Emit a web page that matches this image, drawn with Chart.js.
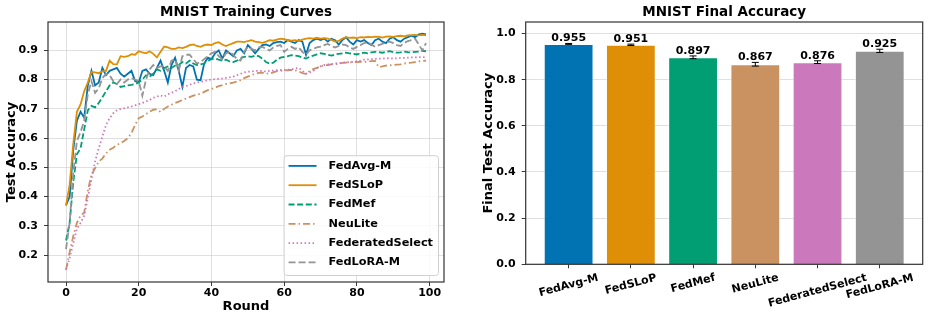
<!DOCTYPE html>
<html>
<head>
<meta charset="utf-8">
<script src="https://cdn.jsdelivr.net/npm/chart.js@4.4.1/dist/chart.umd.min.js"></script>
<style>
  body { margin: 0; background: #fff; }
  #wrap { position: relative; width: 929px; height: 319px; }
  canvas { position: absolute; top: 0; }
  #curves { left: 0; }
  #final { left: 465px; }
</style>
</head>
<body>
<div id="wrap">
  <canvas id="curves" width="465" height="319"></canvas>
  <canvas id="final" width="464" height="319"></canvas>
</div>
<script>
const methods = ['FedAvg-M', 'FedSLoP', 'FedMef', 'NeuLite', 'FederatedSelect', 'FedLoRA-M'];
const colors = ['#0173b2', '#de8f05', '#029e73', '#ca9161', '#cc78bc', '#949494'];
const dashes = [[], [], [6, 2.6], [7, 3, 1.5, 3], [1.5, 2.5], [7, 3]];

// test accuracy per round (0..99)
const fedAvgM = [
  0.37, 0.40, 0.56, 0.66, 0.69, 0.67, 0.78, 0.83, 0.78, 0.79,
  0.84, 0.815, 0.83, 0.835, 0.84, 0.82, 0.81, 0.82, 0.83, 0.795,
  0.79, 0.83, 0.835, 0.82, 0.815, 0.84, 0.865, 0.83, 0.79, 0.85,
  0.875, 0.83, 0.775, 0.84, 0.85, 0.845, 0.80, 0.798, 0.855, 0.875,
  0.87, 0.89, 0.90, 0.872, 0.90, 0.89, 0.88, 0.90, 0.905, 0.89,
  0.918, 0.905, 0.89, 0.905, 0.918, 0.92, 0.915, 0.925, 0.928, 0.93,
  0.925, 0.935, 0.93, 0.925, 0.935, 0.93, 0.885, 0.925, 0.935, 0.94,
  0.935, 0.94, 0.93, 0.94, 0.935, 0.92, 0.935, 0.945, 0.93, 0.92,
  0.935, 0.93, 0.935, 0.925, 0.918, 0.935, 0.94, 0.93, 0.925, 0.94,
  0.945, 0.935, 0.93, 0.94, 0.945, 0.95, 0.945, 0.955, 0.957, 0.955
];
const fedSLoP = [
  0.37, 0.44, 0.58, 0.69, 0.715, 0.76, 0.79, 0.826, 0.825, 0.822,
  0.828, 0.83, 0.865, 0.853, 0.852, 0.88, 0.878, 0.88, 0.887, 0.885,
  0.897, 0.893, 0.89, 0.897, 0.888, 0.876, 0.895, 0.913, 0.91, 0.905,
  0.905, 0.91, 0.908, 0.912, 0.918, 0.92, 0.915, 0.912, 0.918, 0.92,
  0.918, 0.925, 0.928, 0.92, 0.915, 0.92, 0.925, 0.93, 0.93, 0.928,
  0.932, 0.935, 0.93, 0.928, 0.926, 0.93, 0.935, 0.933, 0.937, 0.94,
  0.938, 0.935, 0.933, 0.935, 0.932, 0.937, 0.94, 0.942, 0.94, 0.943,
  0.94, 0.942, 0.94, 0.936, 0.93, 0.932, 0.94, 0.945, 0.943, 0.944,
  0.942, 0.945, 0.944, 0.946, 0.945, 0.947, 0.946, 0.944, 0.947, 0.948,
  0.946, 0.949, 0.95, 0.948, 0.951, 0.952, 0.953, 0.951, 0.953, 0.951
];
const fedMef = [
  0.25, 0.31, 0.45, 0.545, 0.565, 0.63, 0.695, 0.71, 0.705, 0.72,
  0.74, 0.76, 0.78, 0.79, 0.785, 0.775, 0.778, 0.78, 0.782, 0.785,
  0.79, 0.80, 0.815, 0.81, 0.82, 0.835, 0.83, 0.84, 0.845, 0.84,
  0.848, 0.85, 0.86, 0.855, 0.865, 0.855, 0.85, 0.852, 0.855, 0.865,
  0.87, 0.872, 0.868, 0.865, 0.868, 0.862, 0.86, 0.865, 0.872, 0.878,
  0.88, 0.878, 0.882, 0.88, 0.872, 0.86, 0.855, 0.858, 0.868, 0.875,
  0.878, 0.88, 0.884, 0.882, 0.88, 0.876, 0.872, 0.878, 0.882, 0.886,
  0.89, 0.888, 0.885, 0.882, 0.886, 0.888, 0.89, 0.892, 0.89, 0.888,
  0.886, 0.89, 0.892, 0.89, 0.893, 0.895, 0.894, 0.892, 0.895, 0.897,
  0.894, 0.892, 0.893, 0.896, 0.894, 0.893, 0.895, 0.896, 0.898, 0.897
];
const neuLite = [
  0.15, 0.21, 0.265, 0.31, 0.335, 0.345, 0.42, 0.475, 0.497, 0.52,
  0.53, 0.548, 0.56, 0.567, 0.577, 0.582, 0.59, 0.60, 0.617, 0.645,
  0.668, 0.674, 0.682, 0.69, 0.697, 0.698, 0.69, 0.70, 0.708, 0.714,
  0.72, 0.725, 0.73, 0.735, 0.74, 0.745, 0.748, 0.752, 0.758, 0.764,
  0.768, 0.772, 0.778, 0.781, 0.785, 0.787, 0.79, 0.793, 0.798, 0.805,
  0.81, 0.815, 0.82, 0.823, 0.824, 0.822, 0.82, 0.825, 0.829, 0.83,
  0.831, 0.832, 0.833, 0.832, 0.828, 0.822, 0.82, 0.83, 0.836, 0.84,
  0.845, 0.849, 0.85, 0.852, 0.853, 0.855, 0.857, 0.858, 0.859, 0.86,
  0.86, 0.861, 0.86, 0.862, 0.863, 0.864, 0.843, 0.845, 0.848, 0.849,
  0.85, 0.851, 0.852, 0.855, 0.857, 0.858, 0.86, 0.862, 0.864, 0.865
];
const federatedSelect = [
  0.15, 0.19, 0.24, 0.29, 0.31, 0.335, 0.395, 0.46, 0.52, 0.565,
  0.605, 0.645, 0.668, 0.685, 0.695, 0.70, 0.702, 0.705, 0.708, 0.712,
  0.716, 0.72, 0.725, 0.73, 0.738, 0.742, 0.746, 0.742, 0.75, 0.755,
  0.76, 0.768, 0.775, 0.778, 0.782, 0.787, 0.79, 0.793, 0.795, 0.798,
  0.80, 0.802, 0.803, 0.804, 0.806, 0.808, 0.81, 0.815, 0.82, 0.825,
  0.827, 0.828, 0.83, 0.83, 0.829, 0.828, 0.83, 0.831, 0.832, 0.833,
  0.833, 0.834, 0.835, 0.838, 0.84, 0.83, 0.82, 0.825, 0.83, 0.84,
  0.845, 0.85, 0.852, 0.853, 0.855, 0.856, 0.858, 0.859, 0.86, 0.861,
  0.863, 0.865, 0.868, 0.869, 0.87, 0.871, 0.872, 0.872, 0.873, 0.873,
  0.872, 0.873, 0.874, 0.874, 0.875, 0.876, 0.876, 0.877, 0.877, 0.876
];
const fedLoRAM = [
  0.22, 0.31, 0.48, 0.59, 0.62, 0.66, 0.75, 0.795, 0.755, 0.77,
  0.805, 0.82, 0.815, 0.795, 0.785, 0.80, 0.79, 0.80, 0.805, 0.80,
  0.795, 0.745, 0.80, 0.835, 0.85, 0.84, 0.845, 0.845, 0.83, 0.865,
  0.87, 0.83, 0.88, 0.885, 0.885, 0.87, 0.855, 0.86, 0.87, 0.88,
  0.89, 0.895, 0.88, 0.87, 0.89, 0.895, 0.885, 0.87, 0.865, 0.895,
  0.912, 0.905, 0.90, 0.91, 0.912, 0.905, 0.90, 0.91, 0.915, 0.918,
  0.895, 0.905, 0.912, 0.905, 0.91, 0.895, 0.885, 0.90, 0.905, 0.91,
  0.913, 0.918, 0.922, 0.915, 0.91, 0.915, 0.92, 0.918, 0.91, 0.905,
  0.912, 0.918, 0.925, 0.928, 0.92, 0.912, 0.918, 0.922, 0.928, 0.93,
  0.925, 0.918, 0.915, 0.925, 0.932, 0.935, 0.94, 0.92, 0.90, 0.925
];

// final accuracy bars with std error
const finalAcc = [0.955, 0.951, 0.897, 0.867, 0.876, 0.925];
const finalErr = [0.002, 0.003, 0.006, 0.008, 0.006, 0.007];

const FONT = '"DejaVu Sans", sans-serif';
Chart.defaults.font.family = FONT;
Chart.defaults.font.weight = 'bold';
Chart.defaults.color = '#000';

const gridStyle = {
  color: 'rgba(190,190,190,0.6)',
  lineWidth: 0.8,
  tickColor: '#222',
  tickLength: 4,
  tickWidth: 0.9,
  tickBorderDash: []
};

const frame = {
  id: 'frame',
  afterDraw(chart) {
    const {ctx, chartArea: a} = chart;
    ctx.save();
    ctx.strokeStyle = '#333';
    ctx.lineWidth = 1.2;
    ctx.strokeRect(a.left, a.top, a.right - a.left, a.bottom - a.top);
    ctx.restore();
  }
};

const curveLegend = {
  id: 'curveLegend',
  afterDraw(chart) {
    const {ctx, chartArea} = chart;
    const sets = chart.data.datasets;
    ctx.save();
    ctx.font = 'bold 11.3px ' + FONT;
    const textW = Math.max(...sets.map(d => ctx.measureText(d.label).width));
    const rowH = 19.3;
    const w = 45 + textW + 5;
    const h = rowH * sets.length + 4;
    const x0 = chartArea.right - 6 - w;
    const y0 = chartArea.bottom - 7 - h;
    ctx.fillStyle = 'rgba(255,255,255,0.85)';
    ctx.strokeStyle = '#d0d0d0';
    ctx.lineWidth = 1;
    ctx.beginPath();
    ctx.roundRect(x0 + 0.5, y0 + 0.5, w, h, 3);
    ctx.fill();
    ctx.stroke();
    sets.forEach((d, i) => {
      const y = y0 + 10.7 + i * rowH;
      ctx.strokeStyle = d.borderColor;
      ctx.lineWidth = d.borderWidth;
      ctx.setLineDash(d.borderDash);
      ctx.beginPath();
      ctx.moveTo(x0 + 5, y);
      ctx.lineTo(x0 + 33, y);
      ctx.stroke();
      ctx.setLineDash([]);
      ctx.fillStyle = '#000';
      ctx.textBaseline = 'middle';
      ctx.fillText(d.label, x0 + 45, y);
    });
    ctx.restore();
  }
};

const series = [fedAvgM, fedSLoP, fedMef, neuLite, federatedSelect, fedLoRAM];
const rounds = fedAvgM.map((_, i) => i);

new Chart(document.getElementById('curves'), {
  type: 'line',
  data: {
    datasets: series.map((vals, i) => ({
      label: methods[i],
      data: vals.map((v, j) => ({x: rounds[j], y: v})),
      borderColor: colors[i],
      borderWidth: 1.8,
      borderDash: dashes[i],
      pointRadius: 0,
      tension: 0,
      fill: false,
      order: series.length - i
    }))
  },
  options: {
    responsive: false,
    animation: false,
    layout: {padding: {left: 0, right: 21, top: 0, bottom: 0}},
    plugins: {
      legend: {display: false},
      tooltip: {enabled: false},
      title: {
        display: true,
        text: 'MNIST Training Curves',
        fullSize: false,
        font: {size: 13.5, weight: 'bold'},
        padding: {top: 4, bottom: 1.8},
        color: '#000'
      }
    },
    scales: {
      x: {
        type: 'linear',
        min: -4.95,
        max: 103.95,
        border: {display: false},
        grid: Object.assign({borderDash: [3, 2]}, gridStyle),
        ticks: {stepSize: 20, includeBounds: false, padding: 1, font: {size: 11}, callback: v => String(v)},
        title: {display: true, text: 'Round', font: {size: 13, weight: 'bold'}, padding: {top: 0, bottom: 4.5}},
        afterFit: s => { s.height = 37; }
      },
      y: {
        min: 0.108,
        max: 0.997,
        border: {display: false},
        grid: Object.assign({borderDash: [3, 2]}, gridStyle),
        ticks: {stepSize: 0.1, includeBounds: false, padding: 6, font: {size: 11}, callback: v => v.toFixed(1)},
        title: {display: true, text: 'Test Accuracy', font: {size: 13, weight: 'bold'}, padding: {top: 4, bottom: 0}},
        afterFit: s => { s.width = 48; }
      }
    }
  },
  plugins: [curveLegend, frame]
});

const barExtras = {
  id: 'barExtras',
  afterDraw(chart) {
    const {ctx, chartArea} = chart;
    const xs = chart.scales.x, ys = chart.scales.y;
    ctx.save();
    // error bars
    ctx.strokeStyle = '#000';
    ctx.lineWidth = 1;
    finalAcc.forEach((v, i) => {
      const px = xs.getPixelForValue(i);
      const lo = ys.getPixelForValue(v - finalErr[i]);
      const hi = ys.getPixelForValue(v + finalErr[i]);
      ctx.beginPath();
      ctx.moveTo(px, lo); ctx.lineTo(px, hi);
      ctx.moveTo(px - 3.5, lo); ctx.lineTo(px + 3.5, lo);
      ctx.moveTo(px - 3.5, hi); ctx.lineTo(px + 3.5, hi);
      ctx.stroke();
      ctx.fillStyle = '#000';
      ctx.font = 'bold 11px ' + FONT;
      ctx.textAlign = 'center';
      ctx.textBaseline = 'alphabetic';
      ctx.fillText(v.toFixed(3), px, hi - 2);
    });
    // rotated category labels
    const ang = 15 * Math.PI / 180;
    ctx.font = 'bold 11px ' + FONT;
    methods.forEach((m, i) => {
      const px = xs.getPixelForValue(i);
      const w = ctx.measureText(m).width;
      const hgt = 13;
      const boxH = w * Math.sin(ang) + hgt * Math.cos(ang);
      const cy = chartArea.bottom + 7 + boxH / 2;
      ctx.save();
      ctx.translate(px, cy);
      ctx.rotate(-ang);
      ctx.textAlign = 'center';
      ctx.textBaseline = 'middle';
      ctx.fillText(m, 0, 0);
      ctx.restore();
    });
    ctx.restore();
  }
};

new Chart(document.getElementById('final'), {
  type: 'bar',
  data: {
    datasets: [{
      label: 'Final Test Accuracy',
      data: finalAcc.map((v, i) => ({x: i, y: v})),
      backgroundColor: colors,
      borderColor: 'rgba(255,255,255,0.55)',
      borderWidth: 1,
      categoryPercentage: 0.8,
      barPercentage: 1
    }]
  },
  options: {
    responsive: false,
    animation: false,
    layout: {padding: {left: 0, right: 6.3, top: 0, bottom: 0}},
    plugins: {
      legend: {display: false},
      tooltip: {enabled: false},
      title: {
        display: true,
        text: 'MNIST Final Accuracy',
        fullSize: false,
        font: {size: 13.5, weight: 'bold'},
        padding: {top: 4, bottom: 1.8},
        color: '#000'
      }
    },
    scales: {
      x: {
        type: 'linear',
        min: -0.69,
        max: 5.69,
        offset: false,
        border: {display: false},
        grid: {display: true, drawOnChartArea: false, offset: false, tickColor: '#222', tickLength: 4, tickWidth: 0.9},
        ticks: {stepSize: 1, includeBounds: false, display: false},
        afterFit: s => { s.height = 54.7; }
      },
      y: {
        min: 0,
        max: 1.05,
        z: 1,
        border: {display: false},
        grid: Object.assign({borderDash: [3, 2]}, gridStyle),
        ticks: {stepSize: 0.2, includeBounds: false, padding: 6, font: {size: 11}, callback: v => v.toFixed(1)},
        title: {display: true, text: 'Final Test Accuracy', font: {size: 13, weight: 'bold'}, padding: {top: 16.2, bottom: 0}},
        afterFit: s => { s.width = 60.7; }
      }
    }
  },
  plugins: [barExtras, frame]
});
</script>
</body>
</html>
